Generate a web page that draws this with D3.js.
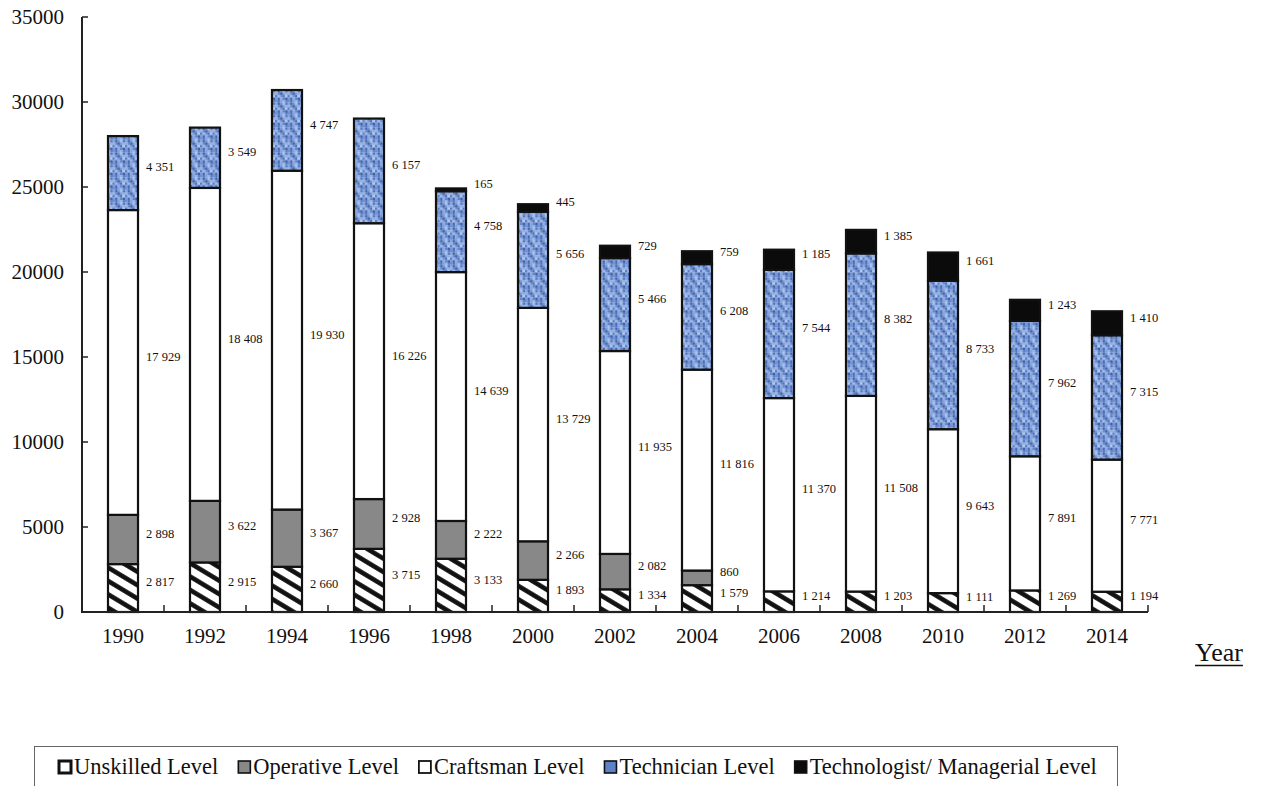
<!DOCTYPE html>
<html>
<head>
<meta charset="utf-8">
<script src="https://cdn.jsdelivr.net/npm/d3@7"></script>
<style>
  html, body { margin: 0; padding: 0; background: #fff; }
  svg { display: block; }
  text { font-family: "Liberation Serif", "Times New Roman", serif; fill: #111; }
</style>
</head>
<body>
<svg id="chart" width="1264" height="786"></svg>
<script>
// ---- data ----
const years = ["1990","1992","1994","1996","1998","2000","2002","2004","2006","2008","2010","2012","2014"];
const unskilled    = [2817, 2915, 2660, 3715, 3133, 1893, 1334, 1579, 1214, 1203, 1111, 1269, 1194];
const operative    = [2898, 3622, 3367, 2928, 2222, 2266, 2082,  860,    0,    0,    0,    0,    0];
const craftsman    = [17929,18408,19930,16226,14639,13729,11935,11816,11370,11508, 9643, 7891, 7771];
const technician   = [4351, 3549, 4747, 6157, 4758, 5656, 5466, 6208, 7544, 8382, 8733, 7962, 7315];
const technologist = [   0,    0,    0,    0,  165,  445,  729,  759, 1185, 1385, 1661, 1243, 1410];
const seriesNames = ["Unskilled Level","Operative Level","Craftsman Level","Technician Level","Technologist/ Managerial Level"];
const yTicks = [0, 5000, 10000, 15000, 20000, 25000, 30000, 35000];
const xAxisTitle = "Year";

// ---- build table ----
const keys = ["u","o","c","t","m"];
const seriesArrays = [unskilled, operative, craftsman, technician, technologist];
const table = years.map((y, i) => {
  const row = { year: y };
  keys.forEach((k, j) => row[k] = seriesArrays[j][i]);
  return row;
});
const stacked = d3.stack().keys(keys)(table);

const svg = d3.select("#chart");
svg.append("rect").attr("width", 1264).attr("height", 786).attr("fill", "#fff");

// ---- patterns ----
const defs = svg.append("defs");
const hatch = defs.append("pattern").attr("id", "hatch")
  .attr("patternUnits", "userSpaceOnUse").attr("width", 11.5).attr("height", 11.5)
  .attr("patternTransform", "rotate(31)");
hatch.append("rect").attr("width", 11.5).attr("height", 11.5).attr("fill", "#fff");
hatch.append("rect").attr("y", 3).attr("width", 11.5).attr("height", 4.6).attr("fill", "#111");

// mottled blue texture (fixed shade grid)
const texShades = [
  "#6d8ed0","#5275bd","#7f9fdc","#9ab6e8","#5d80c6",
  "#86a5df","#4166ad","#6e8fd1","#a9c3ee","#5678c0",
  "#95b1e5","#6386cb","#345aa2","#7a9ad8","#8eabe3",
  "#587bc3","#a2bdeb","#7192d3","#4d71b9","#b3cbf1",
  "#7798d7","#4769b2","#8ba9e2","#6283c9","#3c61aa"
];
const tex = defs.append("pattern").attr("id", "tex")
  .attr("patternUnits", "userSpaceOnUse").attr("width", 12.5).attr("height", 12.5);
texShades.forEach((c, i) => {
  tex.append("rect").attr("x", (i % 5) * 2.5).attr("y", Math.floor(i / 5) * 2.5)
    .attr("width", 2.6).attr("height", 2.6).attr("fill", c);
});

const fills = ["url(#hatch)", "#888888", "#ffffff", "url(#tex)", "#0b0b0b"];

// ---- scales ----
const x = d3.scaleBand().domain(years).range([82, 1148]).paddingInner(0.634).paddingOuter(0.317);
const y = d3.scaleLinear().domain([0, 35000]).range([612, 17]);

// ---- bars ----
const g = svg.append("g");
stacked.forEach((layer, j) => {
  g.append("g").selectAll("rect").data(layer.filter(d => d[1] - d[0] > 0)).join("rect")
    .attr("x", d => x(d.data.year))
    .attr("y", d => y(d[1]))
    .attr("width", x.bandwidth())
    .attr("height", d => y(d[0]) - y(d[1]))
    .attr("fill", fills[j])
    .attr("stroke", "#111")
    .attr("stroke-width", 2.2);
});

// ---- value labels ----
const fmt = d3.formatLocale({ decimal: ".", thousands: " ", grouping: [3], currency: ["", ""] }).format(",");
stacked.forEach((layer, j) => {
  g.append("g").selectAll("text").data(layer.filter(d => d[1] - d[0] > 0)).join("text")
    .attr("x", d => x(d.data.year) + x.bandwidth() + 8)
    .attr("y", d => y((d[0] + d[1]) / 2) - 6)
    .attr("dy", "0.35em")
    .attr("font-size", 12.5)
    .attr("fill", "#111")
    .text(d => fmt(d[1] - d[0]));
});

// ---- axes ----
const axG = svg.append("g");
axG.append("line").attr("x1", 82).attr("x2", 82).attr("y1", y(35000)).attr("y2", y(0))
  .attr("stroke", "#222").attr("stroke-width", 2);
axG.append("line").attr("x1", 81).attr("x2", 1148).attr("y1", y(0)).attr("y2", y(0))
  .attr("stroke", "#222").attr("stroke-width", 2.2);
axG.selectAll("line.yt").data(yTicks).join("line").attr("class", "yt")
  .attr("x1", 82).attr("x2", 88).attr("y1", d => y(d)).attr("y2", d => y(d))
  .attr("stroke", "#222").attr("stroke-width", 1.5);
axG.selectAll("text.yl").data(yTicks).join("text").attr("class", "yl")
  .attr("x", 64).attr("y", d => y(d)).attr("dy", "0.35em")
  .attr("text-anchor", "end").attr("font-size", 21)
  .text(d => d);
axG.selectAll("line.xt").data(years).join("line").attr("class", "xt")
  .attr("x1", d => x(d) + x.bandwidth() / 2 + x.step() / 2)
  .attr("x2", d => x(d) + x.bandwidth() / 2 + x.step() / 2)
  .attr("y1", y(0)).attr("y2", y(0) - 7)
  .attr("stroke", "#222").attr("stroke-width", 1.5);
axG.selectAll("text.xl").data(years).join("text").attr("class", "xl")
  .attr("x", d => x(d) + x.bandwidth() / 2).attr("y", 643)
  .attr("text-anchor", "middle").attr("font-size", 21)
  .text(d => d);

// axis title
const yt = svg.append("text").attr("x", 1195).attr("y", 661).attr("font-size", 26).text(xAxisTitle);
const tw = yt.node().getComputedTextLength();
svg.append("line").attr("x1", 1195).attr("x2", 1195 + tw).attr("y1", 665.5).attr("y2", 665.5)
  .attr("stroke", "#111").attr("stroke-width", 1.6);

// ---- legend ----
const leg = svg.append("g");
leg.append("rect").attr("x", 34.5).attr("y", 746.5).attr("width", 1083).attr("height", 60)
  .attr("fill", "#fff").attr("stroke", "#666").attr("stroke-width", 1);
let lx = 58;
const legFills = ["#ffffff", "#888888", "#ffffff", "#5d82c8", "#0b0b0b"];
const legStroke = [3, 1.6, 1.8, 1.6, 1.6];
seriesNames.forEach((name, j) => {
  leg.append("rect").attr("x", lx + 1).attr("y", 761).attr("width", 12).attr("height", 12)
    .attr("fill", legFills[j]).attr("stroke", "#111").attr("stroke-width", legStroke[j]);
  const t = leg.append("text").attr("x", lx + 16).attr("y", 774).attr("font-size", 22.5).text(name);
  lx += 16 + t.node().getComputedTextLength() + 19;
});
</script>
</body>
</html>
